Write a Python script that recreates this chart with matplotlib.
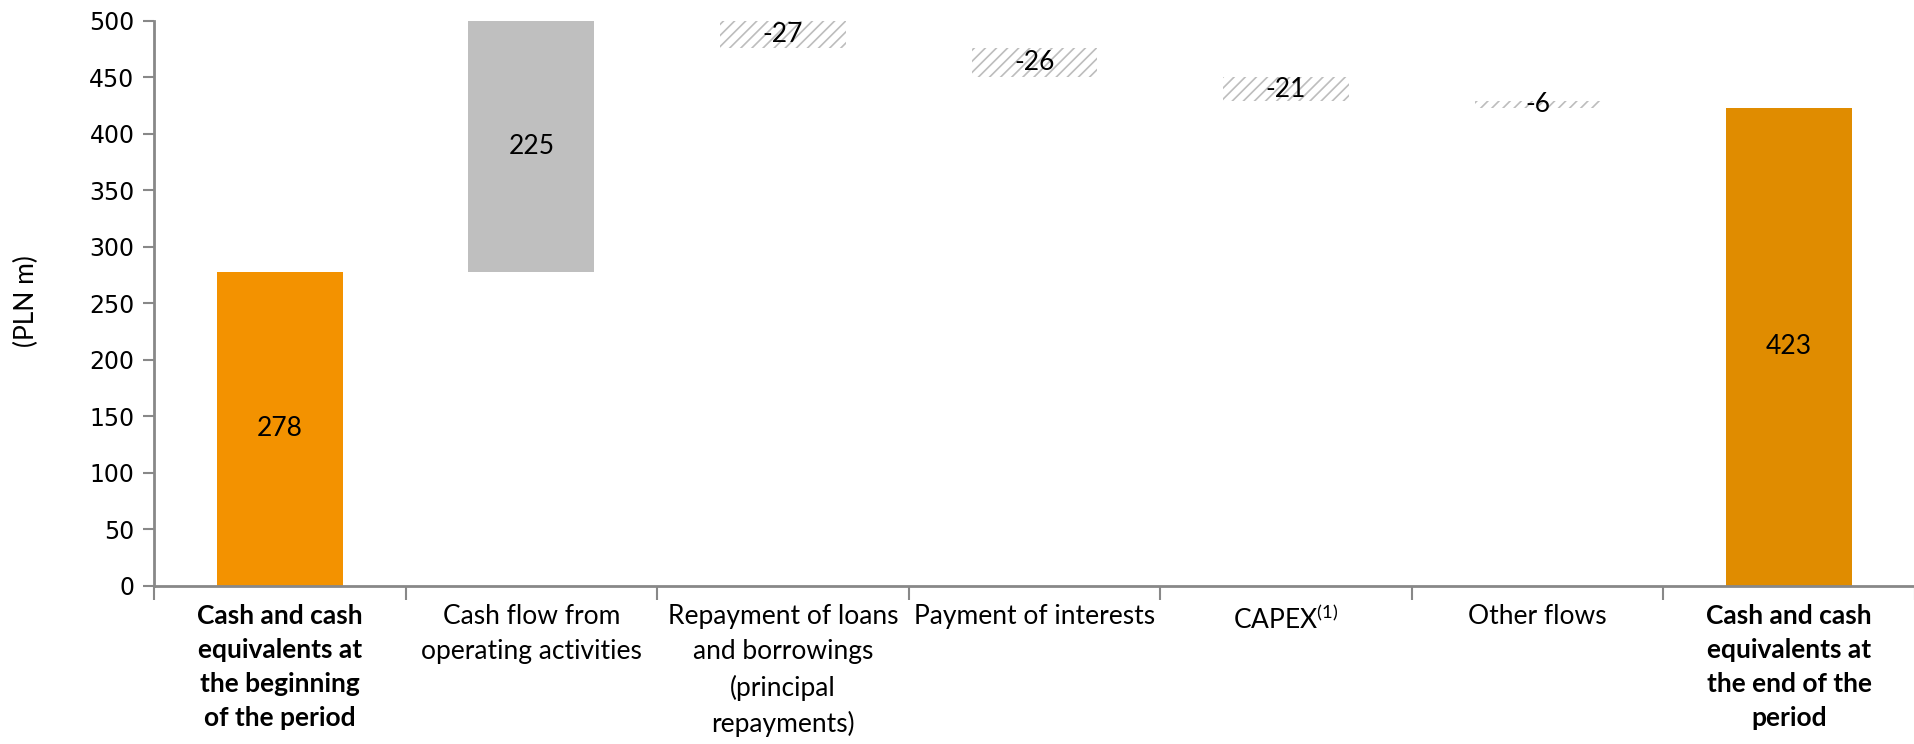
import numpy as np
import matplotlib
matplotlib.use("Agg")
import matplotlib.pyplot as plt

# cash flow bridge, PLN m
categories = ["Cash and cash\nequivalents at\nthe beginning\nof the period",
              "Cash flow from\noperating activities",
              "Repayment of loans\nand borrowings\n(principal\nrepayments)",
              "Payment of interests",
              "CAPEX$^{\\mathrm{(1)}}$",
              "Other flows",
              "Cash and cash\nequivalents at\nthe end of the\nperiod"]
opening = 278
changes = [225, -27, -26, -21, -6]
closing = 423

plt.rcParams['font.family'] = ['Lato', 'DejaVu Sans']
plt.rcParams['mathtext.fontset'] = 'custom'
plt.rcParams['mathtext.rm'] = 'Lato'
plt.rcParams['hatch.linewidth'] = 1.2
plt.rcParams['hatch.color'] = '#bdbdbd'

fig = plt.figure(figsize=(19.15, 7.44), dpi=100)
ax = fig.add_axes([0.0804, 0.2124, 0.9196, 0.7594])
ymax = 500

def put_label(x, lo, hi, txt):
    mid = (max(lo, 0) + min(hi, ymax)) / 2
    ax.text(x, mid, txt, ha='center', va='center', fontsize=19, color='black')

x = np.arange(len(categories))
w = 0.5

# opening balance
ax.bar(x[0], opening, w, color='#f39200')
put_label(x[0], 0, opening, str(opening))

# the flows
level = opening
for i, c in enumerate(changes):
    xi = x[i + 1]
    lo, hi = (level, level + c) if c > 0 else (level + c, level)
    if c > 0:
        ax.bar(xi, c, w, bottom=level, color='#bfbfbf')
    else:
        ax.bar(xi, -c, w, bottom=level + c, color='white', hatch='///',
               edgecolor='#bdbdbd', linewidth=0)
    put_label(xi, lo, hi, str(c))
    level += c

# closing balance
ax.bar(x[-1], closing, w, color='#e08c00')
put_label(x[-1], 0, closing, str(closing))

ax.set_xlim(-0.5, len(categories) - 0.5)
ax.set_ylim(0, ymax)
ax.set_yticks(np.arange(0, 501, 50))
ax.tick_params(axis='y', labelsize=17, length=8, width=1.5, color='#888888', pad=6)
for lbl in ax.get_yticklabels():
    lbl.set_family('DejaVu Sans')

ax.set_xticks(x)
ax.set_xticklabels(categories, fontsize=19, linespacing=1.5, va='top')
for i in (0, len(categories) - 1):
    ax.get_xticklabels()[i].set_fontweight('bold')
ax.tick_params(axis='x', length=0, pad=13)
ax.set_xticks(np.arange(-0.5, len(categories), 1), minor=True)
ax.tick_params(axis='x', which='minor', length=10, width=1.5, color='#888888')

for s in ('top', 'right'):
    ax.spines[s].set_visible(False)
for s in ('left', 'bottom'):
    ax.spines[s].set_color('#888888')
    ax.spines[s].set_linewidth(2)

fig.text(0.014, 0.595, "(PLN m)", rotation=90, ha='center', va='center', fontsize=19)

fig.savefig("out.png", dpi=100)
